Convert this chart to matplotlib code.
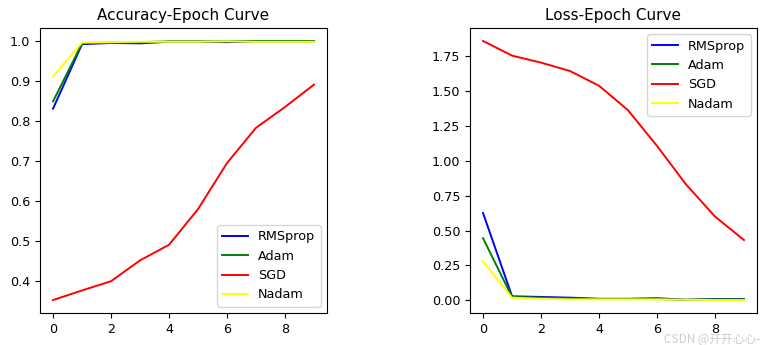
import matplotlib
matplotlib.use("Agg")
import matplotlib.pyplot as plt

epochs = list(range(10))

acc_rmsprop = [0.831, 0.992, 0.995, 0.994, 0.998, 0.998, 0.997, 0.999, 0.999, 0.999]
acc_adam = [0.849, 0.994, 0.996, 0.997, 0.999, 0.999, 0.999, 1.000, 1.000, 1.000]
acc_sgd = [0.353, 0.377, 0.400, 0.452, 0.491, 0.580, 0.695, 0.783, 0.835, 0.891]
acc_nadam = [0.911, 0.996, 0.997, 0.998, 0.998, 0.998, 0.999, 0.998, 0.998, 0.998]

loss_rmsprop = [0.625, 0.030, 0.025, 0.020, 0.012, 0.012, 0.016, 0.005, 0.010, 0.010]
loss_adam = [0.445, 0.025, 0.020, 0.015, 0.010, 0.010, 0.010, 0.005, 0.008, 0.008]
loss_sgd = [1.855, 1.750, 1.700, 1.640, 1.535, 1.360, 1.105, 0.830, 0.600, 0.432]
loss_nadam = [0.280, 0.020, 0.012, 0.008, 0.008, 0.008, 0.008, 0.005, 0.003, 0.003]

names = ["RMSprop", "Adam", "SGD", "Nadam"]
colors = ["blue", "green", "red", "yellow"]

plt.rcParams["font.size"] = 9.2
plt.rcParams["axes.titlesize"] = 11
plt.rcParams["lines.linewidth"] = 1.4

fig = plt.figure(figsize=(7.66, 3.45), dpi=100)
ax1 = fig.add_axes([40 / 766, 1 - 313 / 345, 287 / 766, 285 / 345])
ax2 = fig.add_axes([470 / 766, 1 - 313 / 345, 287 / 766, 285 / 345])

for series, name, c in zip([acc_rmsprop, acc_adam, acc_sgd, acc_nadam], names, colors):
    ax1.plot(epochs, series, color=c, label=name)
ax1.set_title("Accuracy-Epoch Curve")
ax1.legend(loc="lower right")

for series, name, c in zip([loss_rmsprop, loss_adam, loss_sgd, loss_nadam], names, colors):
    ax2.plot(epochs, series, color=c, label=name)
ax2.set_title("Loss-Epoch Curve")
ax2.legend(loc="upper right")

# site watermark in the lower-right corner
fig.text(0.993, 0.016, "CSDN @开开心心-", ha="right", va="center",
         fontsize=8.5, color="#c8c8c8", alpha=0.9,
         family=["Noto Sans CJK SC", "DejaVu Sans"])

fig.savefig("out.png", dpi=100)
